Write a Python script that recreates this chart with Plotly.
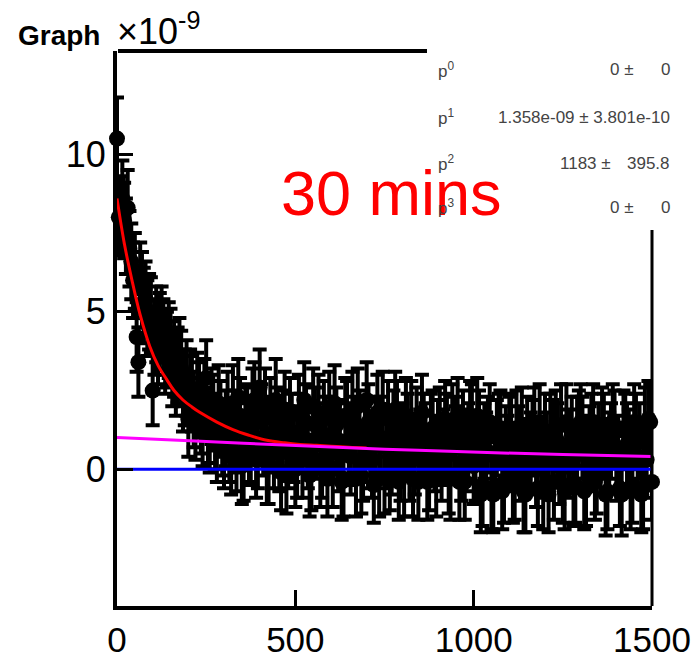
import plotly.graph_objects as go

# ---------------- data (y in units of 1e-9) ----------------
x_vals = [0, 10, 20, 30, 40, 50, 60, 70, 80, 90,
          100, 110, 120, 130, 140, 150, 160, 170, 180, 190,
          200, 210, 220, 230, 240, 250, 260, 270, 280, 290, 300] + list(range(310, 1510, 10))

y_decay = [10.5, 8.1, 7.9, 8.3, 6.6, 6.3, 3.4, 5.7, 5.4, 5.0,
           2.5, 4.6, 4.4, 4.2, 3.8, 3.9, 3.5, 3.3, 3.2, 2.6,
           1.6, 2.4, 1.5, 2.2, 1.3, 2.9, 1.1, 1.8, 0.8, 1.6, 0.6]
y_flat = [1.9, 0.4, 1.2, 2.3, 0.1, 1.5, 0.8, 2.0, 0.3, 2.6,
          1.0, 0.2, 1.7, 0.6, 1.4, -0.1, 1.9, 0.7, 1.2, 0.0,
          1.8, 0.3, 1.5, -0.2, 2.0, 0.9, 0.1, 1.6, -0.3, 1.1,
          2.1, 0.5, -0.4, 1.7, 0.8, 1.9, -0.3, 1.3, 0.2, 2.2,
          0.6, -0.5, 1.8, 1.0, -0.2, 1.6, 0.4, 1.9, -0.4, 0.9,
          1.7, 0.2, -0.3, 1.4, 0.7, 1.1, -0.4, 1.2, 0.5, 1.0,
          0.3, 1.6, -0.2, 1.5, 0.8, -0.4, 1.3, 0.6, 1.6, 0.1,
          1.7, -0.8, 0.9, 1.1, -0.6, 0.4, 1.2, -0.7, 0.8, 1.0,
          -0.5, 1.3, 0.2, -0.7, 1.1, 0.6, 1.4, -0.6, 0.3, 1.2,
          -0.8, 0.9, 1.3, 0.1, -0.5, 1.5, 0.7, -0.6, 1.0, 1.5,
          -0.7, 0.5, 1.2, -0.4, 0.9, 1.4, -0.8, 0.6, 1.5, 0.2,
          -0.6, 1.3, 0.8, -0.7, 1.5, 0.4, -0.8, 1.4, 1.6, -0.4]

# interleaved readings (half-way between the ones above)
x_mid = list(range(5, 1500, 10))
y_mid_decay = [8.0, 8.6, 7.4, 7.0, 6.0, 4.2, 6.0, 5.2, 4.8, 4.9,
               4.2, 3.9, 4.6, 3.6, 4.1, 3.2, 2.9, 3.6, 2.4, 2.9,
               2.6, 1.9, 2.5, 1.7, 2.3, 1.4, 2.0, 1.2, 2.1, 1.0]
y_mid_flat = [1.3, 0.9, 2.1, 0.5, 1.7, 0.2, 1.4, 0.9, 2.2, 0.6,
              1.5, 2.0, 0.1, 1.1, 2.2, 0.5, 1.3, -0.2, 1.7, 0.8,
              0.4, 1.2, 2.2, 0.6, -0.1, 1.4, 1.8, 0.3, 1.0, 1.9,
              0.0, 1.4, 0.9, -0.3, 1.6, 0.4, 1.1, 2.0, -0.2, 0.8,
              1.5, 0.3, 1.1, -0.3, 1.9, 0.7, -0.1, 1.3, 1.6, 0.2,
              -0.2, 1.2, 1.6, 0.4, -0.4, 1.8, 0.9, 0.0, 1.3, -0.3,
              1.4, 0.7, 1.2, -0.3, 1.1, 1.7, 0.2, -0.4, 0.9, 1.5,
              0.2, 1.3, -0.5, 0.6, 1.5, -0.8, 1.0, 1.3, -0.4, 0.5,
              1.2, -0.3, 0.8, 1.4, -0.8, 0.4, 1.0, 0.0, 1.5, -0.6,
              0.6, 1.2, -0.4, 0.9, 1.4, -0.7, 0.3, 1.1, -0.5, 1.3,
              1.0, -0.6, 0.8, 1.5, -0.2, 0.4, 1.1, -0.7, 0.9, 1.3,
              0.5, -0.8, 1.2, 0.7, -0.5, 1.2, 0.9, -0.6, 0.3, 1.5]

err_decay = [1.3, 1.2, 1.2, 1.2, 1.2, 1.2, 1.1, 1.2, 1.2, 1.2,
             1.1, 1.2, 1.2, 1.2, 1.2, 1.2, 1.2, 1.2, 1.2, 1.2,
             1.2, 1.2, 1.2, 1.2, 1.2, 1.2, 1.2, 1.2, 1.2, 1.2, 1.2]
err_flat = [1.2, 1.2, 1.3, 1.2, 1.2, 1.2, 1.3, 1.2, 1.2, 1.2,
            1.2, 1.3, 1.2, 1.2, 1.2, 1.2, 1.2, 1.3, 1.2, 1.2,
            1.2, 1.2, 1.2, 1.3, 1.2, 1.2, 1.3, 1.2, 1.2, 1.2,
            1.2, 1.2, 1.2, 1.2, 1.3, 1.2, 1.2, 1.2, 1.2, 1.2,
            1.2, 1.2, 1.2, 1.3, 1.2, 1.2, 1.2, 1.2, 1.2, 1.2,
            1.2, 1.2, 1.2, 1.2, 1.2, 1.3, 1.2, 1.2, 1.2, 1.2,
            1.3, 1.2, 1.2, 1.2, 1.2, 1.2, 1.2, 1.3, 1.2, 1.2,
            1.2, 1.2, 1.2, 1.2, 1.3, 1.2, 1.2, 1.2, 1.2, 1.3,
            1.2, 1.2, 1.2, 1.3, 1.2, 1.2, 1.2, 1.2, 1.2, 1.2,
            1.2, 1.3, 1.2, 1.2, 1.2, 1.2, 1.2, 1.2, 1.3, 1.2,
            1.2, 1.2, 1.2, 1.2, 1.2, 1.2, 1.3, 1.2, 1.2, 1.2,
            1.2, 1.2, 1.3, 1.2, 1.2, 1.2, 1.2, 1.2, 1.2, 1.2]
err_mid_decay = [1.2, 1.2, 1.2, 1.2, 1.2, 1.1, 1.2, 1.2, 1.2, 1.2,
                 1.2, 1.2, 1.2, 1.2, 1.2, 1.2, 1.2, 1.2, 1.2, 1.2,
                 1.2, 1.2, 1.2, 1.2, 1.2, 1.2, 1.2, 1.2, 1.2, 1.2]
err_mid_flat = [1.2, 1.3, 1.2, 1.2, 1.2, 1.2, 1.2, 1.3, 1.2, 1.2,
                1.2, 1.2, 1.2, 1.2, 1.3, 1.2, 1.2, 1.2, 1.2, 1.2,
                1.3, 1.2, 1.2, 1.2, 1.2, 1.2, 1.2, 1.2, 1.3, 1.2,
                1.2, 1.2, 1.3, 1.2, 1.2, 1.2, 1.2, 1.2, 1.2, 1.2,
                1.2, 1.2, 1.2, 1.2, 1.2, 1.3, 1.2, 1.2, 1.2, 1.2,
                1.3, 1.2, 1.2, 1.2, 1.2, 1.2, 1.2, 1.3, 1.2, 1.2,
                1.2, 1.2, 1.2, 1.3, 1.2, 1.2, 1.2, 1.2, 1.2, 1.2,
                1.2, 1.2, 1.3, 1.2, 1.2, 1.2, 1.2, 1.2, 1.3, 1.2,
                1.2, 1.3, 1.2, 1.2, 1.2, 1.2, 1.2, 1.2, 1.2, 1.3,
                1.2, 1.2, 1.2, 1.2, 1.3, 1.2, 1.2, 1.2, 1.2, 1.2,
                1.3, 1.2, 1.2, 1.2, 1.2, 1.2, 1.3, 1.2, 1.2, 1.2,
                1.2, 1.3, 1.2, 1.2, 1.2, 1.2, 1.2, 1.3, 1.2, 1.2]

x_all = x_vals + x_mid
y_all = y_decay + y_flat + y_mid_decay + y_mid_flat
err_all = err_decay + err_flat + err_mid_decay + err_mid_flat

# fitted curves
red_x = [0, 20, 42, 65, 92, 115, 140, 160, 185, 210, 233, 280, 325, 370, 420, 470, 513, 560, 600, 650, 700]
red_y = [8.6, 7.2, 6.0, 4.9, 3.9, 3.3, 2.84, 2.5, 2.2, 1.98, 1.8, 1.5, 1.26, 1.08, 0.92, 0.84, 0.79, 0.76, 0.73, 0.70, 0.68]

mag_x = [0, 250, 485, 750, 1017, 1250, 1500]
mag_y = [1.01, 0.88, 0.76, 0.64, 0.54, 0.47, 0.41]

blue_x = [0, 1500]
blue_y = [0, 0]

x_ticks = [0, 500, 1000, 1500]
y_ticks = [0, 5, 10]

stat_names = ["p<sup>0</sup>", "p<sup>1</sup>", "p<sup>2</sup>", "p<sup>3</sup>"]
stat_vals = ["0 ±", "1.358e-09 ± 3.801e-10", "1183 ±", "0 ±"]
stat_errs = ["0", "", "395.8", "0"]

# ---------------- layout geometry ----------------
W, H = 700, 660
L, R, T, B = 117, 652, 51, 606
X_RANGE = [0, 1500]
Y_RANGE = [-4.34, 13.28]


def px(xp):
    return (xp - L) / (R - L)


def py(yp):
    return (B - yp) / (B - T)


FONT = "Liberation Sans, Arial, Helvetica, sans-serif"

fig = go.Figure()

fig.add_trace(go.Scatter(
    x=x_all, y=y_all, mode="markers",
    marker=dict(color="black", size=16, line=dict(width=0)),
    error_y=dict(type="data", array=err_all, visible=True, color="black",
                 thickness=4, width=7),
    cliponaxis=False, showlegend=False, hoverinfo="skip"))

fig.add_trace(go.Scatter(x=red_x, y=red_y, mode="lines", line=dict(color="#ff0000", width=3, shape="spline"),
                         showlegend=False, hoverinfo="skip"))
fig.add_trace(go.Scatter(x=mag_x, y=mag_y, mode="lines", line=dict(color="#ff00ff", width=3, shape="spline"),
                         showlegend=False, hoverinfo="skip"))
fig.add_trace(go.Scatter(x=blue_x, y=blue_y, mode="lines", line=dict(color="#0000ff", width=3),
                         showlegend=False, hoverinfo="skip"))

shapes = [
    # top frame line (partly hidden by the stats box)
    dict(type="line", xref="paper", yref="paper", x0=px(118), x1=px(427), y0=1, y1=1,
         line=dict(color="black", width=4), layer="above"),
    # right frame line below the stats box
    dict(type="line", xref="paper", yref="paper", x0=1, x1=1, y0=0, y1=py(230),
         line=dict(color="black", width=3), layer="above"),
]

annotations = [
    dict(text="<b>Graph</b>", xref="paper", yref="paper", x=px(16), y=py(35),
         xanchor="left", yanchor="middle", showarrow=False,
         font=dict(family=FONT, size=28, color="black")),
    dict(text="×10<sup>-9</sup>", xref="paper", yref="paper", x=px(115), y=py(29),
         xanchor="left", yanchor="middle", showarrow=False,
         font=dict(family=FONT, size=36, color="black")),
    dict(text="30 mins", xref="paper", yref="paper", x=px(391), y=py(193),
         xanchor="center", yanchor="middle", showarrow=False,
         font=dict(family=FONT, size=63, color="#ff0000")),
]

row_y = [70, 117, 163, 207]
sep_x = [636, 672, 613, 636]
for i in range(4):
    annotations.append(dict(text=stat_names[i], xref="paper", yref="paper", x=px(436), y=py(row_y[i]),
                            xanchor="left", yanchor="middle", showarrow=False,
                            font=dict(family=FONT, size=17, color="#444")))
    annotations.append(dict(text=stat_vals[i], xref="paper", yref="paper", x=px(sep_x[i]), y=py(row_y[i]),
                            xanchor="right", yanchor="middle", showarrow=False,
                            font=dict(family=FONT, size=17, color="#444")))
    if stat_errs[i]:
        annotations.append(dict(text=stat_errs[i], xref="paper", yref="paper", x=px(672), y=py(row_y[i]),
                                xanchor="right", yanchor="middle", showarrow=False,
                                font=dict(family=FONT, size=17, color="#444")))

fig.update_layout(
    width=W, height=H,
    margin=dict(l=L, r=W - R, t=T, b=H - B, pad=0, autoexpand=False),
    paper_bgcolor="white", plot_bgcolor="white",
    font=dict(family=FONT, color="black"),
    shapes=shapes, annotations=annotations,
    xaxis=dict(range=X_RANGE, tickmode="array", tickvals=x_ticks, ticktext=[str(v) for v in x_ticks],
               ticks="inside", ticklen=16, tickwidth=3, tickcolor="black", automargin=False,
               showline=True, linewidth=4, linecolor="black", showgrid=False, zeroline=False,
               tickfont=dict(family=FONT, size=35, color="black"), ticklabelstandoff=0),
    yaxis=dict(range=Y_RANGE, tickmode="array", tickvals=y_ticks, ticktext=[str(v) for v in y_ticks],
               ticks="inside", ticklen=16, tickwidth=3, tickcolor="black", automargin=False,
               showline=True, linewidth=4, linecolor="black", showgrid=False, zeroline=False,
               tickfont=dict(family=FONT, size=36, color="black"), ticklabelstandoff=0),
)

fig.write_html("out.html")
